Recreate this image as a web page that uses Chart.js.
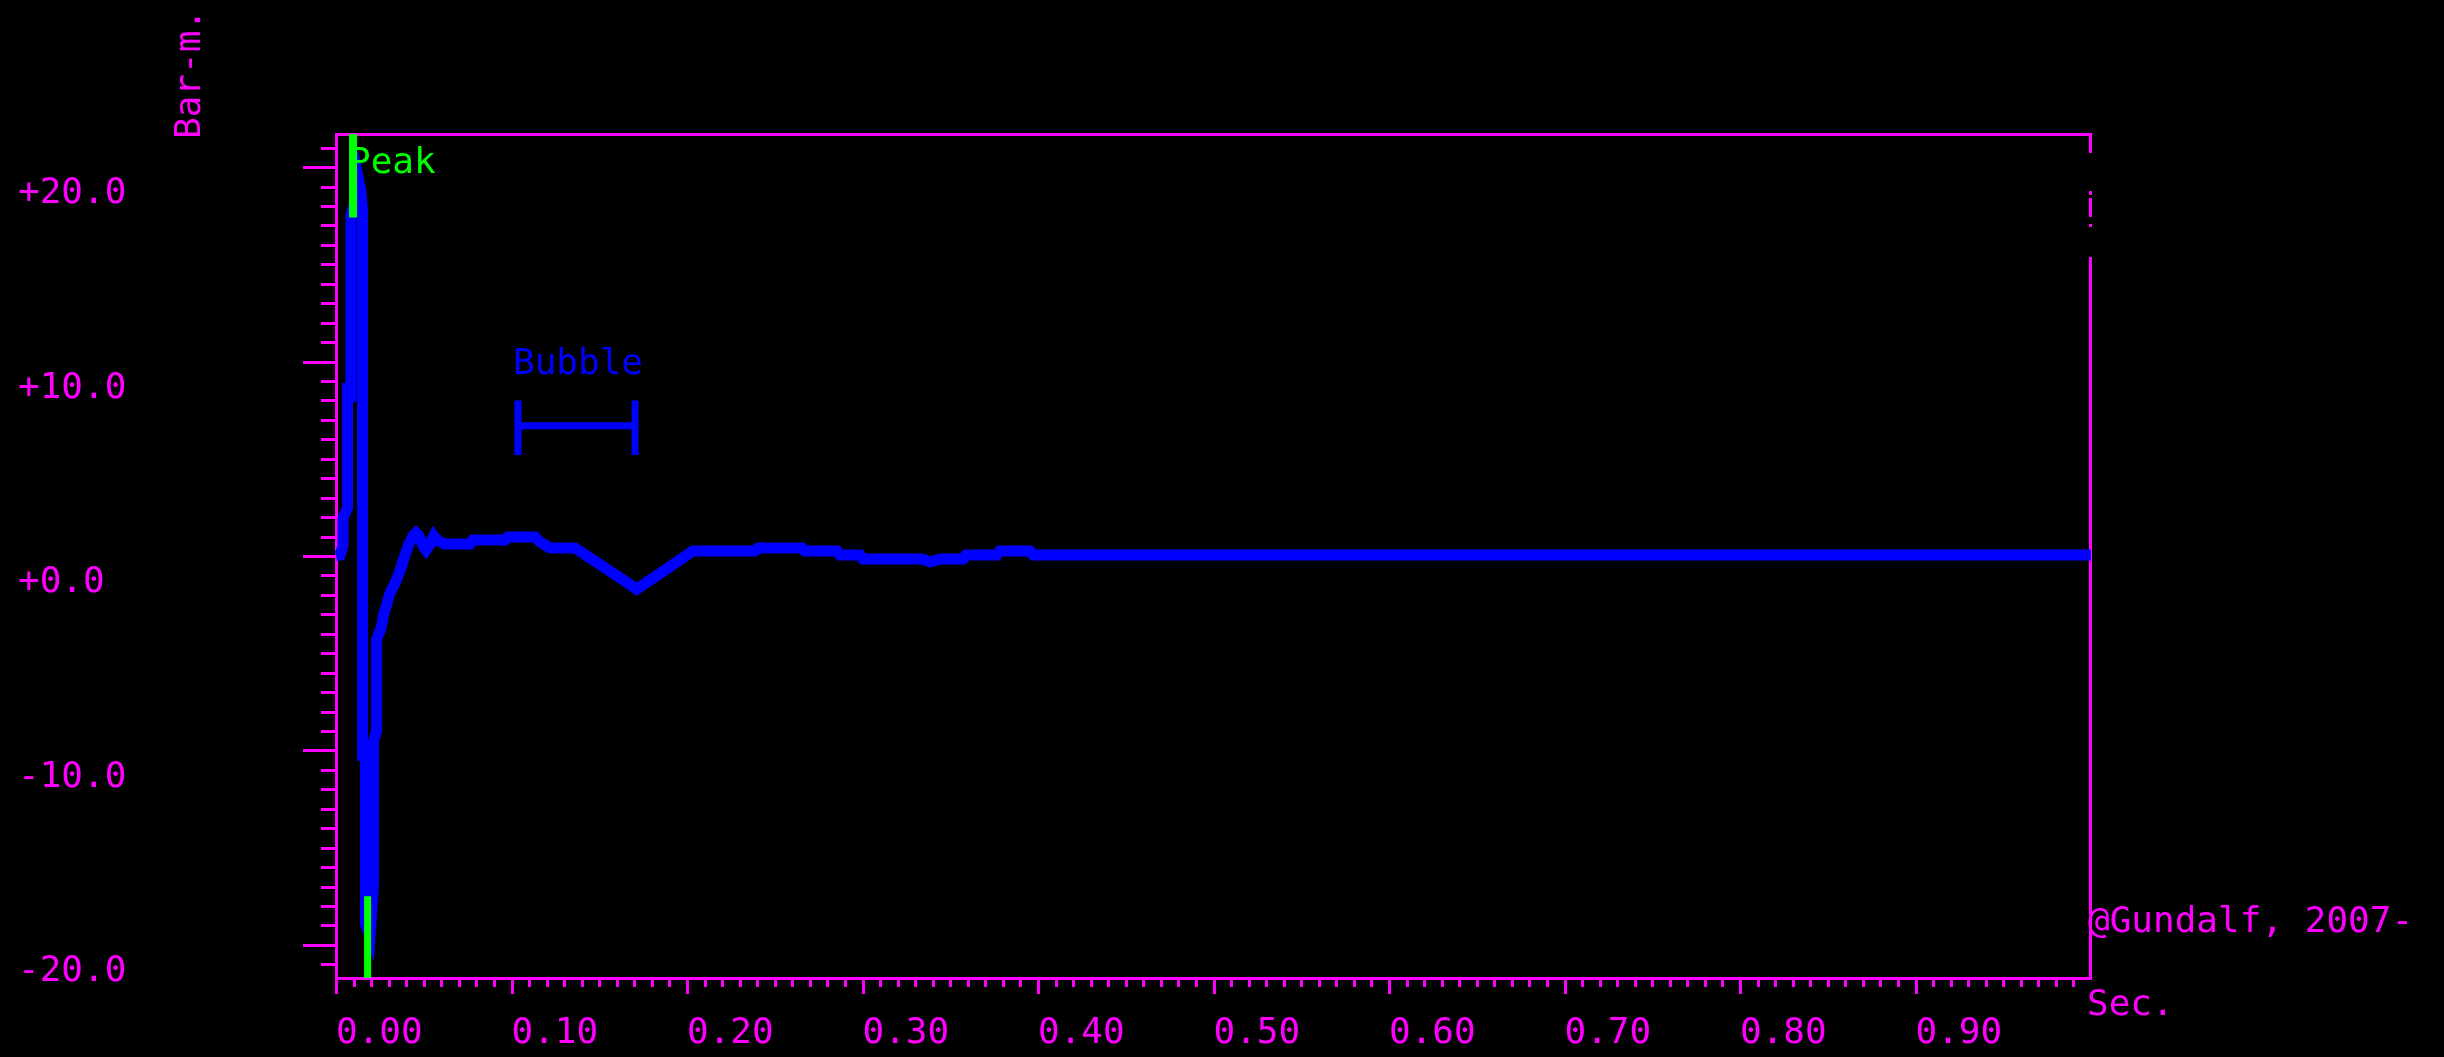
<!DOCTYPE html>
<html>
<head>
<meta charset="utf-8">
<script src="https://cdn.jsdelivr.net/npm/chart.js@4.4.0/dist/chart.umd.min.js"></script>
<style>
  html, body { margin: 0; padding: 0; background: #000; overflow: hidden; }
  canvas { display: block; }
</style>
</head>
<body>
<canvas id="c" width="2444" height="1057"></canvas>
<script>
// ---- data ----
const timeSec = [0.0000, 0.0023, 0.0040, 0.0040, 0.0066, 0.0066, 0.0085, 0.0085, 0.0108, 0.0128,
  0.0142, 0.0151, 0.0151, 0.0168, 0.0168, 0.0194, 0.0214, 0.0214, 0.0231, 0.0231,
  0.0256, 0.0274, 0.0308, 0.0342, 0.0370, 0.0393, 0.0416, 0.0439, 0.0456,
  0.0473, 0.0496, 0.0513, 0.0536, 0.0558, 0.0581, 0.0621, 0.0764, 0.0781, 0.0963,
  0.0980, 0.1134, 0.1162, 0.1219, 0.1362, 0.1715, 0.2034, 0.2387, 0.2405, 0.2655,
  0.2672, 0.2855, 0.2872, 0.2986, 0.3003, 0.3339, 0.3385, 0.3442, 0.3573, 0.3590,
  0.3766, 0.3783, 0.3954, 0.3972, 1.0000];
const pressureBar = [0.00, 0.05, 0.51, 1.95, 2.47, 8.89, 7.92, 17.53, 18.25, 19.38,
  18.77, 17.74, -10.54, -9.51, -18.92, -19.54, -16.86, -9.51, -9.00, -4.27,
  -3.75, -2.93, -1.90, -1.29, -0.62, 0.05, 0.62, 1.03, 1.18,
  1.03, 0.51, 0.31, 0.62, 1.03, 0.77, 0.62, 0.62, 0.82, 0.82,
  0.98, 0.98, 0.72, 0.41, 0.41, -1.70, 0.26, 0.26, 0.41, 0.41,
  0.26, 0.26, 0.05, 0.05, -0.15, -0.15, -0.31, -0.15, -0.15, 0.05,
  0.05, 0.26, 0.26, 0.05, 0.05];

const xTickValues = [0.0, 0.1, 0.2, 0.3, 0.4, 0.5, 0.6, 0.7, 0.8, 0.9];
const yTickValues = [-20, -10, 0, 10, 20];
const xMinorStep = 0.01;
const yMinorStep = 1;

const peakMaxTime = [0.0097, 0.0097];
const peakMaxBar = [21.7, 17.4];
const peakMinTime = [0.0180, 0.0180];
const peakMinBar = [-17.5, -21.7];

const bubbleTime = [0.1037, 0.1704];
const bubbleBar = [5.2, 6.7, 8.0];

const X_MIN = 0, X_MAX = 1.0, Y_MIN = -21.7, Y_MAX = 21.7;

const MAGENTA = '#FF00FF', BLUE = '#0000FF', GREEN = '#00FF00';
const FONT = '"DejaVu Sans Mono", "Liberation Mono", monospace';
const FS = 36;

const mainData = timeSec.map((t, i) => ({ x: t, y: pressureBar[i] }));
const peakMaxData = peakMaxTime.map((t, i) => ({ x: t, y: peakMaxBar[i] }));
const peakMinData = peakMinTime.map((t, i) => ({ x: t, y: peakMinBar[i] }));
const bubbleData = [
  { x: bubbleTime[0], y: bubbleBar[2] }, { x: bubbleTime[0], y: bubbleBar[0] }, { x: bubbleTime[0], y: null },
  { x: bubbleTime[0], y: bubbleBar[1] }, { x: bubbleTime[1], y: bubbleBar[1] }, { x: bubbleTime[1], y: null },
  { x: bubbleTime[1], y: bubbleBar[2] }, { x: bubbleTime[1], y: bubbleBar[0] }
];

const framePlugin = {
  id: 'frame',
  beforeDatasetsDraw(chart) {
    const { ctx, chartArea: ca, scales: { x, y } } = chart;
    ctx.save();
    ctx.fillStyle = MAGENTA;
    const L = ca.left, R = ca.right, T = ca.top, B = ca.bottom;
    // axis box
    ctx.fillRect(L - 1, T - 1, R - L + 2, 3);          // top
    ctx.fillRect(L - 1, B - 1, R - L + 2, 3);          // bottom
    ctx.fillRect(L - 1, T - 1, 3, B - T + 2);          // left
    // right edge with gap
    ctx.fillRect(R - 2, T - 1, 3, 20);
    ctx.fillRect(R - 2, T + 57, 3, 4);
    ctx.fillRect(R - 2, T + 64, 3, 19);
    ctx.fillRect(R - 2, T + 90, 3, 3);
    ctx.fillRect(R - 2, T + 123, 3, B - T - 122);
    // y ticks
    for (let v = Math.ceil(Y_MIN); v <= Y_MAX; v += yMinorStep) {
      const py = Math.round(y.getPixelForValue(v));
      const len = yTickValues.includes(v) ? 33 : 15;
      ctx.fillRect(L - len, py - 1, len, 3);
    }
    // x ticks
    for (let i = 0; i * xMinorStep < X_MAX - 1e-9; i++) {
      const v = i * xMinorStep;
      const px = Math.round(x.getPixelForValue(v));
      const len = (i % 10 === 0) ? 16 : 9;
      ctx.fillRect(px - 1, B, 3, len);
    }
    ctx.restore();
  },
  afterDatasetsDraw(chart) {
    const { ctx, chartArea: ca, scales: { x, y } } = chart;
    ctx.save();
    ctx.font = FS + 'px ' + FONT;
    ctx.textBaseline = 'alphabetic';
    ctx.textAlign = 'left';
    // Peak
    ctx.fillStyle = GREEN;
    ctx.fillText('Peak', x.getPixelForValue(peakMaxTime[0]) - 4, ca.top + 39);
    // Bubble
    ctx.fillStyle = BLUE;
    ctx.fillText('Bubble', x.getPixelForValue(bubbleTime[0]) - 5, y.getPixelForValue(bubbleBar[2]) - 26);
    // credits & unit
    ctx.fillStyle = MAGENTA;
    ctx.fillText('@Gundalf, 2007-', ca.right - 3, ca.bottom - 46);
    ctx.fillText('Sec.', ca.right - 4, ca.bottom + 37);
    // y title
    ctx.translate(200, 139);
    ctx.rotate(-Math.PI / 2);
    ctx.fillText('Bar-m.', 0, 0);
    ctx.restore();
  }
};

new Chart(document.getElementById('c'), {
  type: 'scatter',
  data: {
    datasets: [
      { data: mainData, showLine: true, borderColor: BLUE, borderWidth: 11, pointRadius: 0,
        borderJoinStyle: 'miter', borderCapStyle: 'butt', tension: 0, clip: 8, order: 3 },
      { data: bubbleData, showLine: true, spanGaps: false, borderColor: BLUE, borderWidth: 7, pointRadius: 0,
        borderCapStyle: 'butt', tension: 0, order: 2 },
      { data: peakMaxData, showLine: true, borderColor: GREEN, borderWidth: 8, pointRadius: 0,
        borderCapStyle: 'butt', clip: 4, order: 1 },
      { data: peakMinData, showLine: true, borderColor: GREEN, borderWidth: 7, pointRadius: 0,
        borderCapStyle: 'butt', clip: 4, order: 1 }
    ]
  },
  options: {
    responsive: false,
    animation: false,
    devicePixelRatio: 1,
    events: [],
    layout: { padding: { left: 18, top: 134, right: 353, bottom: 0 } },
    plugins: { legend: { display: false }, tooltip: { enabled: false } },
    scales: {
      x: {
        type: 'linear', position: 'bottom', min: X_MIN, max: X_MAX,
        grid: { display: false, drawTicks: false }, border: { display: false },
        afterFit: (s) => { s.height = 79; },
        afterBuildTicks: (s) => { s.ticks = xTickValues.map(v => ({ value: v })); },
        ticks: {
          color: MAGENTA, font: { family: FONT, size: FS }, align: 'start', padding: 34,
          maxRotation: 0, autoSkip: false,
          callback: (v) => Number(v).toFixed(2)
        }
      },
      y: {
        type: 'linear', position: 'left', min: Y_MIN, max: Y_MAX,
        grid: { display: false, drawTicks: false }, border: { display: false },
        afterFit: (s) => { s.width = 318; },
        afterBuildTicks: (s) => { s.ticks = yTickValues.map(v => ({ value: v })); },
        ticks: {
          color: MAGENTA, font: { family: FONT, size: FS }, crossAlign: 'far', labelOffset: 27,
          autoSkip: false,
          callback: (v) => (v >= 0 ? '+' : '-') + Math.abs(v).toFixed(1)
        }
      }
    }
  },
  plugins: [framePlugin]
});
</script>
</body>
</html>
